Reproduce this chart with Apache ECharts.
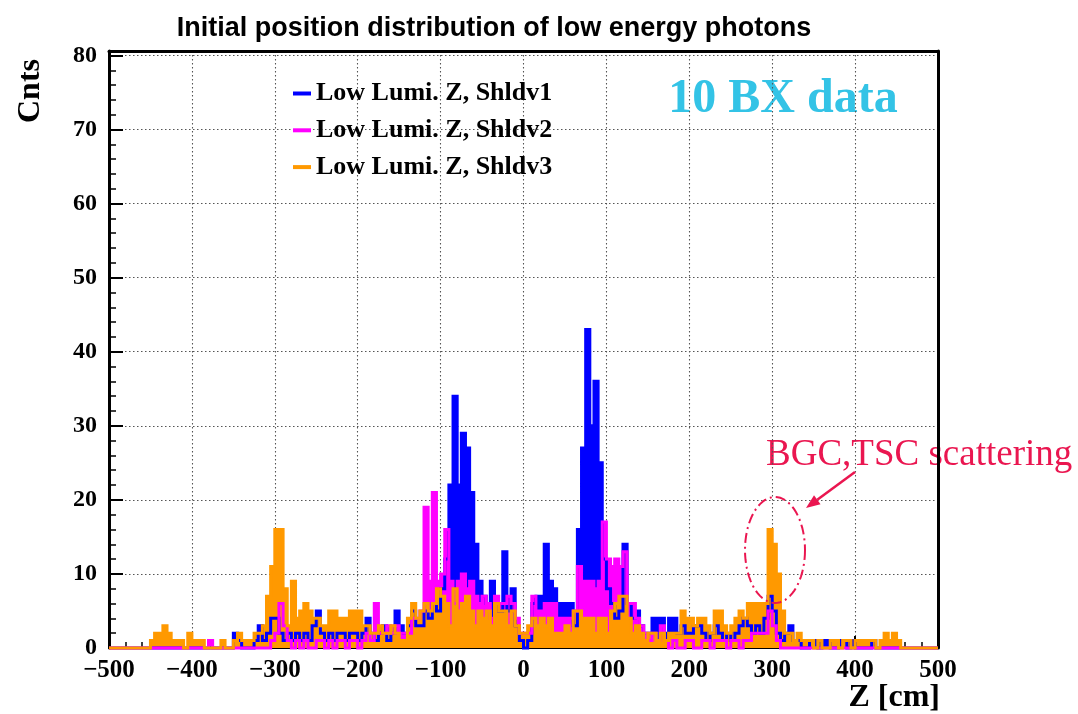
<!DOCTYPE html>
<html>
<head>
<meta charset="utf-8">
<title>Initial position distribution of low energy photons</title>
<script src="https://cdn.jsdelivr.net/npm/echarts@6/dist/echarts.min.js"></script>
<style>
  html, body { margin: 0; padding: 0; background: #ffffff; }
  #chart { width: 1078px; height: 714px; }
</style>
</head>
<body>
<div id="chart"></div>
<script>
// Histogram binning along Z (cm): 200 bins of 5 cm from -500 to 500
const zMin = -500;
const zMax = 500;
const binWidth = 5;

const seriesNames = ['Low Lumi. Z, Shldv1', 'Low Lumi. Z, Shldv2', 'Low Lumi. Z, Shldv3'];
const seriesColors = ['#0000ff', '#ff00ff', '#ff9900'];

// Counts per bin, one row per 100 cm
const shldv1 = [
  0,0,0,0,0,0,0,0,0,0, 0,0,0,0,0,0,0,0,0,0,
  0,0,0,0,0,0,0,0,0,0, 2,1,0,0,0,1,3,1,2,4,
  4,2,1,2,1,2,1,2,1,3, 5,2,1,2,1,2,2,1,2,2,
  1,2,4,2,1,2,3,1,2,5, 3,2,3,5,3,3,5,4,6,5,
  8,12,22,34,22,29,27,21,14,9, 7,6,9,6,5,13,5,8,3,1,
  0,1,6,7,7,14,9,8,6,6, 6,6,3,16,27,43,30,36,25,12,
  8,6,4,5,14,6,4,5,3,2, 2,4,4,4,2,4,4,2,3,2,
  2,3,3,2,1,2,3,2,1,2, 1,2,3,4,3,2,3,2,4,7,
  5,2,1,2,3,1,1,0,0,1, 1,0,1,1,0,0,1,1,0,1,
  0,0,0,0,1,0,0,0,0,0, 0,0,0,0,0,0,0,0,0,0
];

const shldv2 = [
  0,0,0,0,0,0,0,0,0,0, 0,0,0,0,0,0,0,0,0,0,
  0,0,0,0,1,0,0,0,0,0, 0,0,0,0,0,0,0,0,0,1,
  2,6,3,1,0,1,0,1,0,0, 1,1,0,1,0,1,1,0,1,1,
  0,1,2,1,6,2,2,3,2,3, 2,2,2,4,4,5,19,9,21,9,
  10,16,9,6,9,10,8,9,7,6, 7,6,4,7,6,6,7,6,4,2,
  2,2,7,5,5,6,6,6,4,4, 4,4,5,11,9,9,9,8,9,17,
  12,11,12,11,13,6,6,4,3,2, 1,2,1,3,1,0,1,0,0,1,
  1,0,0,1,1,0,1,1,1,0, 1,1,0,1,1,2,2,2,2,5,
  3,1,0,0,0,0,0,0,0,0, 0,0,0,0,0,0,0,0,0,0,
  0,0,0,0,0,0,0,0,0,0, 0,0,0,0,0,0,0,0,0,0
];

const shldv3 = [
  0,0,0,0,0,0,0,0,0,0, 1,2,2,3,2,1,1,1,0,2,
  1,1,1,0,0,0,0,1,0,0, 1,2,1,1,1,2,2,3,7,11,
  16,16,8,3,9,4,5,6,5,4, 4,3,3,5,5,4,4,4,5,5,
  5,3,3,2,2,3,2,2,3,2, 1,1,4,6,4,5,6,5,6,8,
  7,6,3,8,5,6,7,5,3,5, 4,5,3,6,5,5,3,5,3,2,
  2,3,4,3,4,3,4,2,2,2, 3,2,5,5,4,4,4,2,4,4,
  2,5,6,7,7,4,2,3,2,1, 2,2,1,2,1,2,2,2,5,4,
  4,3,4,4,3,2,5,5,3,2, 3,4,5,4,6,6,6,6,6,16,
  14,10,5,2,2,1,2,1,1,1, 0,1,0,0,1,1,0,1,1,0,
  1,1,1,1,1,0,1,2,1,2, 1,0,0,0,0,0,0,0,0,0
];

// Axis ranges and tick spacing
const xTickStep = 100;
const yMax = 80.6;
const yTickStep = 10;

// Turn bin counts into [lowEdge, count] points for a step outline
function histPoints(counts) {
  const pts = counts.map((c, k) => [zMin + k * binWidth, c]);
  pts.push([zMax, counts[counts.length - 1]]);
  return pts;
}

const serifBold = { fontFamily: 'Liberation Serif', fontWeight: 'bold', color: '#000' };
const gridDots = { color: '#555', width: 1.1, type: [1.5, 2.5] };
const red = '#ea1650';

// Dash-dot ellipse around the peak near Z = 300 cm
const ell = { cx: 775, cy: 550, rx: 30, ry: 53 };
const ellPts = [];
for (let i = 0; i <= 72; i++) {
  const a = (i / 72) * Math.PI * 2;
  ellPts.push([ell.cx + ell.rx * Math.cos(a), ell.cy + ell.ry * Math.sin(a)]);
}

// Arrow pointing at the ellipse
const arrowFrom = [855, 472];
const arrowTip = [806, 508];
const dx = arrowTip[0] - arrowFrom[0], dy = arrowTip[1] - arrowFrom[1];
const len = Math.hypot(dx, dy);
const ux = dx / len, uy = dy / len;
const headLen = 14, headHalf = 5.5;
const base = [arrowTip[0] - ux * headLen, arrowTip[1] - uy * headLen];
const headPts = [
  arrowTip,
  [base[0] - uy * headHalf, base[1] + ux * headHalf],
  [base[0] + uy * headHalf, base[1] - ux * headHalf]
];

const chart = echarts.init(document.getElementById('chart'), null, { renderer: 'canvas' });

chart.setOption({
  animation: false,
  backgroundColor: '#ffffff',
  title: {
    text: 'Initial position distribution of low energy photons',
    left: 489,
    textAlign: 'center',
    top: 10,
    textStyle: { fontFamily: 'Liberation Sans', fontWeight: 'bold', fontSize: 27, color: '#000' }
  },
  legend: {
    orient: 'vertical',
    left: 288,
    top: 75.5,
    icon: 'rect',
    itemWidth: 18,
    itemHeight: 4,
    itemGap: 10.8,
    data: seriesNames,
    textStyle: Object.assign({ fontSize: 26, lineHeight: 26 }, serifBold)
  },
  grid: { left: 109, right: 140, top: 51, bottom: 66, containLabel: false },
  xAxis: [
    {
      type: 'value',
      min: zMin,
      max: zMax,
      interval: xTickStep,
      axisLine: { onZero: false, lineStyle: { color: '#000', width: 2 } },
      axisTick: { inside: true, length: 12, lineStyle: { color: '#000', width: 2 } },
      minorTick: { show: true, splitNumber: 5, length: 6, lineStyle: { color: '#000', width: 1.5 } },
      splitLine: { show: true, lineStyle: gridDots },
      axisLabel: Object.assign({
        fontSize: 25,
        margin: 10,
        showMinLabel: true,
        showMaxLabel: true,
        formatter: v => (v < 0 ? '\u2212' + Math.abs(v) : String(v))
      }, serifBold)
    },
    {
      type: 'value',
      position: 'top',
      min: zMin,
      max: zMax,
      axisLine: { show: true, onZero: false, lineStyle: { color: '#000', width: 3 } },
      axisTick: { show: false },
      axisLabel: { show: false },
      splitLine: { show: false }
    }
  ],
  yAxis: [
    {
      type: 'value',
      min: 0,
      max: yMax,
      interval: yTickStep,
      axisLine: { show: true, onZero: false, lineStyle: { color: '#000', width: 3 } },
      axisTick: { inside: true, length: 14, lineStyle: { color: '#000', width: 2 } },
      minorTick: { show: true, splitNumber: 5, length: 7, lineStyle: { color: '#000', width: 1.5 } },
      splitLine: { show: true, lineStyle: gridDots },
      axisLabel: Object.assign({ fontSize: 24, margin: 12, showMaxLabel: false }, serifBold)
    },
    {
      type: 'value',
      position: 'right',
      min: 0,
      max: yMax,
      axisLine: { show: true, onZero: false, lineStyle: { color: '#000', width: 3 } },
      axisTick: { show: false },
      axisLabel: { show: false },
      splitLine: { show: false }
    }
  ],
  series: [shldv1, shldv2, shldv3].map((counts, i) => ({
    name: seriesNames[i],
    type: 'line',
    xAxisIndex: 0,
    yAxisIndex: 0,
    step: 'end',
    showSymbol: false,
    symbol: 'none',
    clip: false,
    color: seriesColors[i],
    itemStyle: { color: seriesColors[i] },
    lineStyle: { color: seriesColors[i], width: 3, cap: 'butt', join: 'miter' },
    areaStyle: { color: seriesColors[i], opacity: 1 },
    emphasis: { disabled: true },
    data: histPoints(counts)
  })),
  graphic: [
    {
      type: 'text',
      x: 30.5, y: 91,
      rotation: Math.PI / 2,
      style: { text: 'Cnts', fontFamily: 'Liberation Serif', fontWeight: 'bold', fontSize: 32, fill: '#000', align: 'center', verticalAlign: 'middle' }
    },
    {
      type: 'text',
      x: 940, y: 698,
      style: { text: 'Z [cm]', fontFamily: 'Liberation Serif', fontWeight: 'bold', fontSize: 32, fill: '#000', align: 'right', verticalAlign: 'middle' }
    },
    {
      type: 'text',
      x: 783, y: 100,
      style: { text: '10 BX data', fontFamily: 'Liberation Serif', fontWeight: 'bold', fontSize: 48, fill: '#33c3e6', align: 'center', verticalAlign: 'middle' }
    },
    {
      type: 'text',
      x: 766, y: 455,
      style: { text: 'BGC,TSC scattering', fontFamily: 'Liberation Serif', fontSize: 37, fill: red, align: 'left', verticalAlign: 'middle' }
    },
    {
      type: 'polyline',
      shape: { points: ellPts },
      style: { stroke: red, lineWidth: 2, fill: null, lineDash: [10, 4, 2, 4] },
      z: 10
    },
    {
      type: 'line',
      shape: { x1: arrowFrom[0], y1: arrowFrom[1], x2: base[0], y2: base[1] },
      style: { stroke: red, lineWidth: 2.5 },
      z: 10
    },
    {
      type: 'polygon',
      shape: { points: headPts },
      style: { fill: red, stroke: null },
      z: 10
    }
  ]
});
</script>
</body>
</html>
